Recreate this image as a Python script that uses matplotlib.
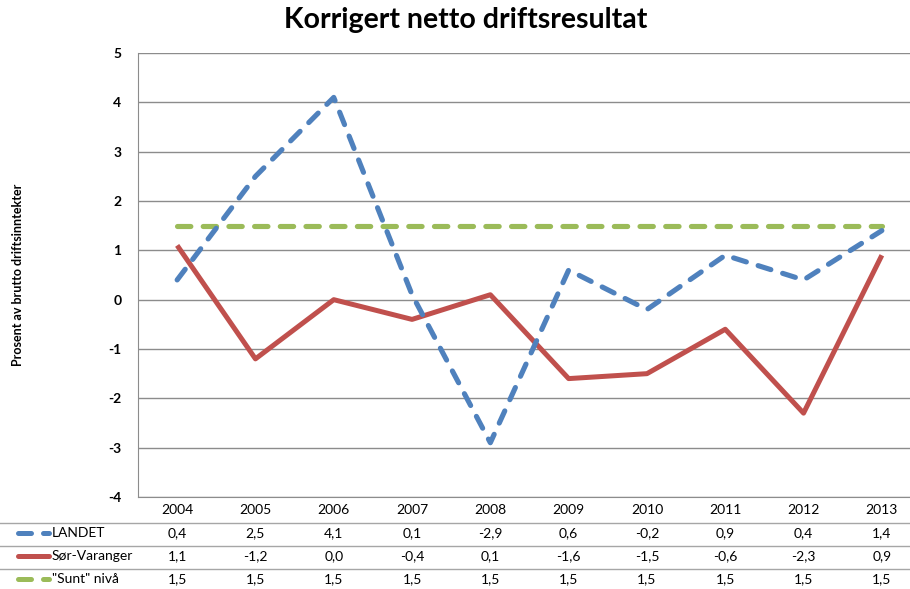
import matplotlib
matplotlib.use("Agg")
import matplotlib.pyplot as plt
from matplotlib.transforms import blended_transform_factory
from matplotlib.lines import Line2D

years = ["2004", "2005", "2006", "2007", "2008", "2009", "2010", "2011", "2012", "2013"]
landet = [0.4, 2.5, 4.1, 0.1, -2.9, 0.6, -0.2, 0.9, 0.4, 1.4]
sor_varanger = [1.1, -1.2, 0.0, -0.4, 0.1, -1.6, -1.5, -0.6, -2.3, 0.9]
sunt = [1.5, 1.5, 1.5, 1.5, 1.5, 1.5, 1.5, 1.5, 1.5, 1.5]
series_names = ["LANDET", "Sør-Varanger", "\"Sunt\" nivå"]
title = "Korrigert netto driftsresultat"
ylabel = "Prosent av brutto driftsinntekter"

plt.rcParams['font.family'] = ['Lato', 'DejaVu Sans']

W, H = 910, 589
fig = plt.figure(figsize=(W / 100, H / 100), dpi=100)
left, right, top, bottom = 138, 921, 53, 497
ax = fig.add_axes([left / W, 1 - bottom / H, (right - left) / W, (bottom - top) / H])

x = list(range(len(years)))
blue = "#4F81BD"
red = "#C0504D"
green = "#9BBB59"

ax.plot(x, sunt, color=green, lw=3.7, dashes=(2.6, 2.4), dash_capstyle='round', zorder=3)
ax.plot(x, sor_varanger, color=red, lw=3.6, solid_capstyle='butt', zorder=4)
ax.plot(x, landet, color=blue, lw=3.7, dashes=(2.6, 2.4), dash_capstyle='round', zorder=5)

ax.set_xlim(-0.5, len(years) - 0.5)
ax.set_ylim(-4, 5)
ax.set_yticks(range(-4, 6))
ax.set_yticklabels([str(v) for v in range(-4, 6)], fontweight='bold', fontsize=10)
ax.set_xticks([])
ax.tick_params(axis='y', length=0, pad=12)
ax.grid(axis='y', color='#8c8c8c', lw=1)
for s in ['top', 'right']:
    ax.spines[s].set_visible(False)
ax.spines['left'].set_color('#8c8c8c')
ax.spines['bottom'].set_color('#8c8c8c')
ax.set_axisbelow(True)

fig.text(466 / W, 1 - 20 / H, title, ha='center', va='center', fontsize=20.5, fontweight='bold')
fig.text(18 / W, 1 - 275 / H, ylabel, rotation=90, ha='center', va='center', fontsize=9, fontweight='bold')

# data table
tr = blended_transform_factory(ax.transData, fig.transFigure)
row_y = [510, 533, 556, 579]
for xi, yr in zip(x, years):
    fig.text(xi, 1 - row_y[0] / H, yr, transform=tr, ha='center', va='center', fontsize=10)
rows = [landet, sor_varanger, sunt]
for r, vals in enumerate(rows):
    for xi, v in zip(x, vals):
        fig.text(xi, 1 - row_y[r + 1] / H, f"{v:.1f}".replace('.', ','), transform=tr,
                 ha='center', va='center', fontsize=10)

for ly in [523, 546, 569]:
    fig.add_artist(Line2D([0, 1], [1 - ly / H, 1 - ly / H], transform=fig.transFigure,
                          color='#a6a6a6', lw=1))

key_styles = [(blue, (2.6, 2.4)), (red, None), (green, (2.6, 2.4))]
for (c, d), name, ry in zip(key_styles, series_names, row_y[1:]):
    yy = 1 - ry / H
    ln = Line2D([18 / W, 49 / W], [yy, yy], transform=fig.transFigure, color=c, lw=3.6)
    if d is not None:
        ln.set_dashes(d)
        ln.set_dash_capstyle('round')
    else:
        ln.set_solid_capstyle('round')
    fig.add_artist(ln)
    fig.text(52 / W, yy, name, ha='left', va='center', fontsize=10)

fig.savefig("out.png", dpi=100)
